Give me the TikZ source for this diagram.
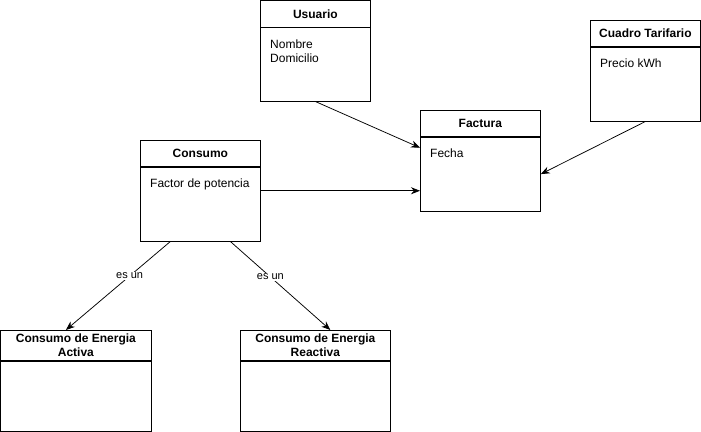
\documentclass[tikz,border=0pt]{standalone}
\usepackage{fontspec}
\setmainfont{Liberation Sans}
\usetikzlibrary{calc,positioning,arrows.meta}
\tikzset{
  head/.style={draw=black, line width=0.75pt, font=\bfseries\fontsize{12}{13.5}\selectfont, align=center, inner sep=0pt, anchor=north west},
  body/.style={draw=black, line width=0.75pt, inner sep=0pt, anchor=north},
  attr/.style={font=\fontsize{12}{14}\selectfont, align=left, inner sep=0pt, anchor=north west},
  link/.style={draw=black, line width=0.75pt, -{Stealth[length=9pt,width=7pt]}},
  tag/.style={fill=white, font=\fontsize{11}{13}\selectfont, inner sep=1pt},
}

\begin{document}
\begin{tikzpicture}[x=1pt, y=-1pt]
  \useasboundingbox (0,0) rectangle (701,431);
  % classes
  \node[head, minimum width=110pt, minimum height=26pt] (usuario) at (260,0.5) {Usuario};
  \node[body, minimum width=110pt, minimum height=73.5pt] (usuarioB) at (usuario.south) {};
  \node[attr] (usuarioA) at ($(usuarioB.north west)+(10,12)$) {Nombre\\Domicilio};

  \node[head, minimum width=110pt, minimum height=26pt] (cuadro) at (590,20) {Cuadro Tarifario};
  \node[body, minimum width=110pt, minimum height=74pt] (cuadroB) at (cuadro.south) {};
  \node[attr] (cuadroA) at ($(cuadroB.north west)+(10,12)$) {Precio kWh};

  \node[head, minimum width=120pt, minimum height=26pt] (factura) at (420,110) {Factura};
  \node[body, minimum width=120pt, minimum height=74pt] (facturaB) at (factura.south) {};
  \node[attr] (facturaA) at ($(facturaB.north west)+(10,12)$) {Fecha};

  \node[head, minimum width=120pt, minimum height=26pt] (consumo) at (140,140) {Consumo};
  \node[body, minimum width=120pt, minimum height=74pt] (consumoB) at (consumo.south) {};
  \node[attr] (consumoA) at ($(consumoB.north west)+(10,12)$) {Factor de potencia};

  \node[head, minimum width=150pt, minimum height=30pt] (activa) at (0.5,330) {Consumo de Energia\\Activa};
  \node[body, minimum width=150pt, minimum height=70pt] (activaB) at (activa.south) {};

  \node[head, minimum width=150pt, minimum height=30pt] (reactiva) at (240,330) {Consumo de Energia\\Reactiva};
  \node[body, minimum width=150pt, minimum height=70pt] (reactivaB) at (reactiva.south) {};

  % connectors
  \coordinate (consumoR) at ($(consumo.north east)!0.5!(consumoB.south east)$);
  \draw[link] (usuarioB.south) -- ($(facturaB.north west)+(0,11)$);
  \draw[link] (cuadroB.south) -- (facturaB.east);
  \draw[link] (consumoR) -- (consumoR -| facturaB.west);
  \draw[link] ($(consumoB.south)+(-30,0)$) -- ($(activa.north)+(-10,0)$)
    node[tag, pos=0.39] (isa1) {es un};
  \draw[link] ($(consumoB.south)+(30,0)$) -- ($(reactiva.north)+(15,0)$)
    node[tag, pos=0.4] (isa2) {es un};
\end{tikzpicture}
\end{document}
